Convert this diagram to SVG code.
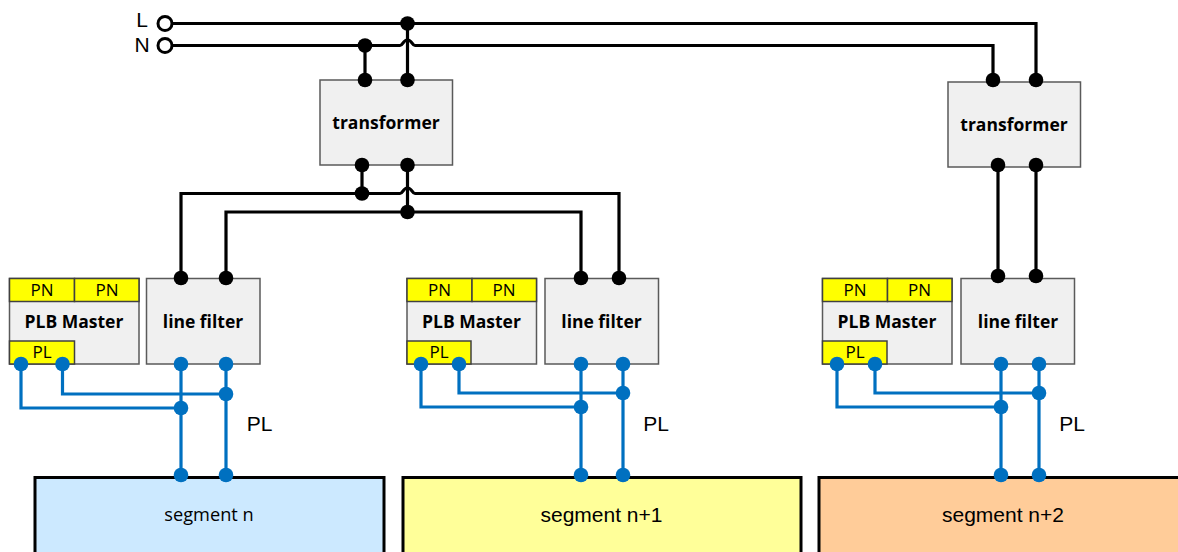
<svg xmlns="http://www.w3.org/2000/svg" width="1178" height="552" viewBox="0 0 1178 552">
<style>
.box{fill:#f0f0f0;stroke:#5a5a5a;stroke-width:1.5}
.y{fill:#ffff00;stroke:#404040;stroke-width:1.5}
.seg{stroke:#000;stroke-width:3}
.w{fill:none;stroke:#000;stroke-width:3.2}
.b{fill:none;stroke:#0070c0;stroke-width:3.2}
.kd{fill:#000}
.bd{fill:#0070c0}
text{text-anchor:middle;fill:#000}
.t{font:700 17.5px "Open Sans",sans-serif}
.s{font:18.2px "Open Sans",sans-serif}
.a{font:21px "Liberation Sans",Arial,sans-serif}
.p{font:17px "Open Sans",sans-serif}
</style>
<g id="seg-n"><rect class="seg" x="35" y="477.500" width="349" height="90" fill="#cce9ff"/><text class="s" x="209" y="521">segment n</text></g>
<g id="seg-n1"><rect class="seg" x="403" y="477.500" width="398" height="90" fill="#ffff99"/><text class="a" x="601.500" y="522">segment n+1</text></g>
<g id="seg-n2"><rect class="seg" x="819" y="477.500" width="380" height="90" fill="#ffcc99"/><text class="a" x="1003" y="522">segment n+2</text></g>
<g id="transformer1"><rect class="box" x="320" y="80" width="132.500" height="85"/><text class="t" x="386" y="129">transformer</text></g>
<g id="transformer2"><rect class="box" x="948" y="82" width="132.500" height="85"/><text class="t" x="1014" y="131">transformer</text></g>
<g id="master1"><rect class="box" x="9.500" y="278.500" width="129.500" height="85.500"/><rect class="y" x="9.500" y="278.500" width="65" height="23"/><rect class="y" x="74.500" y="278.500" width="64.500" height="23"/><rect class="y" x="9.500" y="341" width="65" height="23"/><text class="p" x="42" y="296">PN</text><text class="p" x="107" y="296">PN</text><text class="p" x="42" y="358">PL</text><text class="t" x="74" y="328">PLB Master</text></g>
<g id="filter1"><rect class="box" x="146.500" y="278.500" width="113.500" height="85.500"/><text class="t" x="203" y="328">line filter</text></g>
<g id="master2"><rect class="box" x="407" y="278.500" width="129.500" height="85.500"/><rect class="y" x="407" y="278.500" width="65" height="23"/><rect class="y" x="472" y="278.500" width="64.500" height="23"/><rect class="y" x="407" y="341" width="64" height="23"/><text class="p" x="439.500" y="296">PN</text><text class="p" x="504" y="296">PN</text><text class="p" x="439" y="358">PL</text><text class="t" x="471.500" y="328">PLB Master</text></g>
<g id="filter2"><rect class="box" x="545" y="278.500" width="113.500" height="85.500"/><text class="t" x="601.500" y="328">line filter</text></g>
<g id="master3"><rect class="box" x="822.500" y="278.500" width="129.500" height="85.500"/><rect class="y" x="822.500" y="278.500" width="65" height="23"/><rect class="y" x="887.500" y="278.500" width="64.500" height="23"/><rect class="y" x="822.500" y="341" width="64.500" height="23"/><text class="p" x="855" y="296">PN</text><text class="p" x="919.500" y="296">PN</text><text class="p" x="855" y="358">PL</text><text class="t" x="887" y="328">PLB Master</text></g>
<g id="filter3"><rect class="box" x="961" y="278.500" width="113.500" height="85.500"/><text class="t" x="1018" y="328">line filter</text></g>
<g id="connectors">
<path class="w" d="M172 23.500H1036V80"/>
<path class="w" d="M172 45.500H400C403 45.500 403 40 407.500 40S412 45.500 415 45.500H993V81"/>
<path class="w" d="M365 45.500V80M407.500 23.500V80M362 165V193.500M407.500 165V212"/>
<path class="w" d="M181 278V193.500H400C403 193.500 403 188 407.500 188S412 193.500 415 193.500H619V278"/>
<path class="w" d="M226 278V212H581V278"/>
<path class="w" d="M998 165V276M1036 165V276"/>
<path class="b" d="M181 364V475M226 364V475M62.500 364V394H226M21 364V408H181"/>
<path class="b" d="M581 364V475M623 364V475M459 364V393H623M421 364V407H581"/>
<path class="b" d="M1001 364V475M1039 364V475M875 364V393H1039M837 364V407H1001"/>
<g class="kd"><circle cx="407.500" cy="23.500" r="7.300"/><circle cx="365" cy="45.500" r="7.300"/><circle cx="365" cy="80" r="7.300"/><circle cx="407.500" cy="80" r="7.300"/><circle cx="362" cy="165" r="7.300"/><circle cx="407.500" cy="165" r="7.300"/><circle cx="362" cy="193.500" r="7.300"/><circle cx="407.500" cy="212" r="7.300"/><circle cx="181" cy="278" r="7.300"/><circle cx="226" cy="278" r="7.300"/><circle cx="581" cy="278" r="7.300"/><circle cx="619" cy="278" r="7.300"/><circle cx="993" cy="80" r="7.300"/><circle cx="1036" cy="80" r="7.300"/><circle cx="998" cy="165" r="7.300"/><circle cx="1036" cy="165" r="7.300"/><circle cx="998" cy="276" r="7.300"/><circle cx="1036" cy="276" r="7.300"/></g>
<g class="bd"><circle cx="21" cy="364" r="7.300"/><circle cx="62.500" cy="364" r="7.300"/><circle cx="181" cy="364" r="7.300"/><circle cx="226" cy="364" r="7.300"/><circle cx="226" cy="394" r="7.300"/><circle cx="181" cy="408" r="7.300"/><circle cx="181" cy="475" r="7.300"/><circle cx="226" cy="475" r="7.300"/>
<circle cx="421" cy="364" r="7.300"/><circle cx="459" cy="364" r="7.300"/><circle cx="581" cy="364" r="7.300"/><circle cx="623" cy="364" r="7.300"/><circle cx="623" cy="393" r="7.300"/><circle cx="581" cy="407" r="7.300"/><circle cx="581" cy="475" r="7.300"/><circle cx="623" cy="475" r="7.300"/>
<circle cx="837" cy="364" r="7.300"/><circle cx="875" cy="364" r="7.300"/><circle cx="1001" cy="364" r="7.300"/><circle cx="1039" cy="364" r="7.300"/><circle cx="1039" cy="393" r="7.300"/><circle cx="1001" cy="407" r="7.300"/><circle cx="1001" cy="475" r="7.300"/><circle cx="1039" cy="475" r="7.300"/></g>
<circle cx="165" cy="23.500" r="7" fill="#fff" stroke="#000" stroke-width="3"/>
<circle cx="165" cy="45.500" r="7" fill="#fff" stroke="#000" stroke-width="3"/>
</g>
<text class="a" x="142" y="27">L</text>
<text class="a" x="142" y="52">N</text>
<text class="a" x="259.500" y="431">PL</text>
<text class="a" x="656" y="431">PL</text>
<text class="a" x="1072" y="431">PL</text>
</svg>
